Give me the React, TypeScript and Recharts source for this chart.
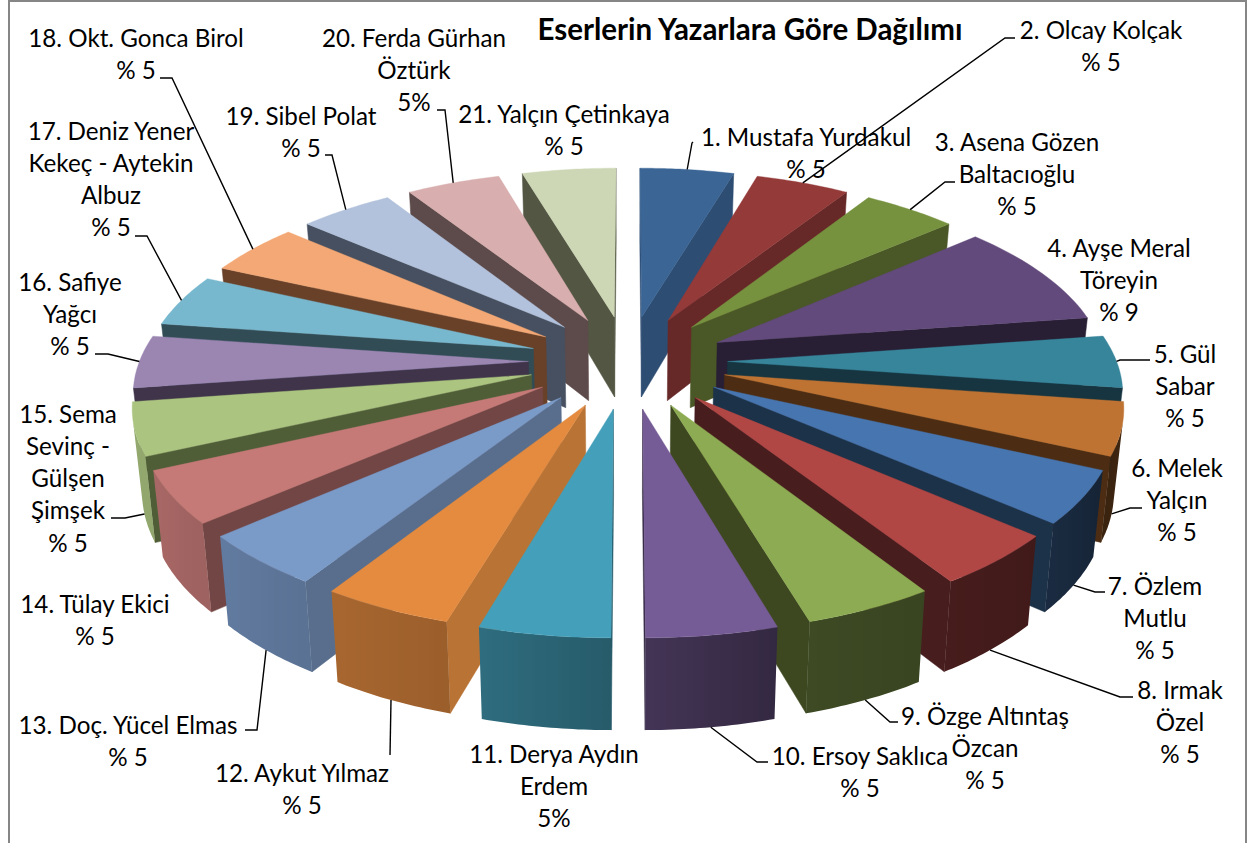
import React from "react";
import { PieChart, Pie } from "recharts";

const W = 1249;
const H = 843;

const names = [
  "Mustafa Yurdakul", "Olcay Kolçak", "Asena Gözen Baltacıoğlu", "Ayşe Meral Töreyin", "Gül Sabar",
  "Melek Yalçın", "Özlem Mutlu", "Irmak Özel", "Özge Altıntaş Özcan", "Ersoy Saklıca", "Derya Aydın Erdem",
  "Aykut Yılmaz", "Doç. Yücel Elmas", "Tülay Ekici", "Sema Sevinç - Gülşen Şimşek", "Safiye Yağcı",
  "Deniz Yener Kekeç - Aytekin Albuz", "Okt. Gonca Birol", "Sibel Polat", "Ferda Gürhan Öztürk", "Yalçın Çetinkaya",
];
const values = [4.55, 4.55, 4.55, 9.09, 4.55, 4.55, 4.55, 4.55, 4.55, 4.55, 4.55, 4.55, 4.55, 4.55, 4.55, 4.55, 4.55, 4.55, 4.55, 4.55, 4.55];

const labelLines = [
  ["1. Mustafa Yurdakul", "% 5"],
  ["2. Olcay Kolçak", "% 5"],
  ["3. Asena Gözen", "Baltacıoğlu", "% 5"],
  ["4. Ayşe Meral", "Töreyin", "% 9"],
  ["5. Gül", "Sabar", "% 5"],
  ["6. Melek", "Yalçın", "% 5"],
  ["7. Özlem", "Mutlu", "% 5"],
  ["8. Irmak", "Özel", "% 5"],
  ["9. Özge Altıntaş", "Özcan", "% 5"],
  ["10. Ersoy Saklıca", "% 5"],
  ["11. Derya Aydın", "Erdem", "5%"],
  ["12. Aykut Yılmaz", "% 5"],
  ["13. Doç. Yücel Elmas", "% 5"],
  ["14. Tülay Ekici", "% 5"],
  ["15. Sema", "Sevinç -", "Gülşen", "Şimşek", "% 5"],
  ["16. Safiye", "Yağcı", "% 5"],
  ["17. Deniz Yener", "Kekeç - Aytekin", "Albuz", "% 5"],
  ["18. Okt. Gonca Birol", "% 5"],
  ["19. Sibel Polat", "% 5"],
  ["20. Ferda Gürhan", "Öztürk", "5%"],
  ["21. Yalçın Çetinkaya", "% 5"],
];

const topColors = [
  "#3A6595", "#943A39", "#76923F", "#624A7C", "#37859B", "#BF7333", "#4775B0", "#B04745", "#8DAB52", "#765C96", "#44A0BA",
  "#E48B40", "#7A9AC8", "#C67A78", "#ABC480", "#9B86B2", "#78B8CF", "#F3A875", "#B2C2DC", "#D8AEAE", "#CDD7B5",
];
const sideColors = [
  "#2E4D73", "#672928", "#4A5726", "#281F35", "#163540", "#4C2D13", "#1C3248", "#471D1E", "#3D4820", "#322842", "#275A69",
  "#B87335", "#586E8C", "#724645", "#505E38", "#3F3449", "#314C55", "#694028", "#465060", "#5D4A4A", "#525643",
];
const shadeStops: [number, number][] = [
  [60, 0.35], [100, 0.36], [115, 0.3], [130, 0.36], [147, 0.4], [163, 0.43], [180, 0.57], [196, 0.68],
  [213, 0.74], [229, 0.8], [245, 0.85], [262, 0.87], [300, 0.87],
];

// label layout: text centre x, first-line centre y
const labelX = [806, 1101, 1017, 1119, 1185, 1177, 1155, 1180, 985, 860, 554, 302, 128, 95, 68, 70, 111, 136, 301, 414, 564];
const labelY = [136, 29, 141, 247, 353, 467, 585, 689, 715, 755, 753, 772, 724, 603, 413, 281, 130, 37, 115, 37, 113];
// leader layout: [elbow x, elbow y, end x, end y, anchor height 0..1] or null
const leaders: (number[] | null)[] = [
  [692, 143, 693, 142, 0], [1005, 38, 1015, 38, 0], [945, 182, 955, 182, 0], null, [1120, 360, 1150, 360, 0],
  [1130, 508, 1142, 508, 1], [1095, 592, 1105, 592, 1], [1120, 697, 1133, 697, 1], [890, 722, 898, 722, 1],
  [757, 762, 768, 762, 1], null, [390, 755, 390, 755, 1], [257, 730, 245, 730, 1], null, [125, 518, 111, 518, 1],
  [108, 354, 95, 354, 0], [147, 236, 135, 236, 0], [172, 78, 160, 78, 0], [332, 155, 325, 155, 0], [445, 110, 437, 110, 0], null,
];

const table = names.map((name, slice) => ({ name, value: values[slice], slice }));
const reversed = [...table].reverse();

const CX = 628;
const CY = 361.5;
const RADIUS = 389;
const EXPLODE = 0.256;
const K = 0.141;
const ASPECT = 0.4665;
const BOTTOM = 0.98;

const rad = (d: number) => (d * Math.PI) / 180;

function arcs(props: any) {
  const a = 90 - props.startAngle;
  const b = 90 - props.endAngle;
  let lo = Math.min(a, b);
  let hi = Math.max(a, b);
  if (lo < -0.001) {
    lo += 360;
    hi += 360;
  }
  return { lo, hi, mid: (lo + hi) / 2 };
}

function projector(props: any, mid: number) {
  const { cx, cy, outerRadius: B } = props;
  const ox = EXPLODE * Math.sin(rad(mid));
  const oy = -EXPLODE * Math.cos(rad(mid));
  return (r: number, theta: number, bottom: boolean): [number, number] => {
    const X = r * Math.sin(rad(theta)) + ox;
    const Y = -r * Math.cos(rad(theta)) + oy;
    const s = 1 / (1 - K * Y);
    const sx = cx + B * X * s * (bottom ? BOTTOM : 1);
    const sy = cy + B * ASPECT * Y * s + (bottom ? 82 + 8.2 * Y : 0);
    return [sx, sy];
  };
}

const path = (pts: [number, number][]) =>
  "M" + pts.map((p) => `${p[0].toFixed(1)},${p[1].toFixed(1)}`).join("L") + "Z";

const area = (pts: [number, number][]) => {
  let t = 0;
  pts.forEach((p, i) => {
    const q = pts[(i + 1) % pts.length];
    t += p[0] * q[1] - q[0] * p[1];
  });
  return t;
};

function shadeAt(theta: number) {
  for (let i = 1; i < shadeStops.length; i++) {
    if (theta <= shadeStops[i][0]) {
      const [a, va] = shadeStops[i - 1];
      const [b, vb] = shadeStops[i];
      return va + ((vb - va) * Math.max(0, theta - a)) / (b - a);
    }
  }
  return 0.87;
}

function scaled(hex: string, f: number) {
  const n = parseInt(hex.slice(1), 16);
  const c = [(n >> 16) & 255, (n >> 8) & 255, n & 255].map((v) => Math.round(v * f));
  return `rgb(${c[0]},${c[1]},${c[2]})`;
}

function wedge(props: any, half: "right" | "left") {
  const { lo, hi, mid } = arcs(props);
  const slice = props.slice ?? props.payload?.slice ?? 0;
  if ((half === "right") !== mid < 180) return <g />;
  const P = projector(props, mid);
  const top = topColors[slice];
  const side = sideColors[slice];
  const STEPS = 24;
  const thetas: number[] = [];
  for (let i = 0; i <= STEPS; i++) thetas.push(lo + ((hi - lo) * i) / STEPS);
  const rim = thetas.map((t) => P(1, t, false));
  const low = thetas.map((t) => P(1, t, true));
  const apex = P(0, mid, false);
  const apexB = P(0, mid, true);

  const radial = (q: [number, number][], key: string) =>
    area(q) < 0 ? <path key={key} d={path(q)} fill={side} stroke={side} strokeWidth={0.5} /> : null;

  // the part of the outer band that faces the viewer
  const seen: number[] = [];
  for (let i = 0; i < STEPS; i++) {
    if (area([rim[i], rim[i + 1], low[i + 1], low[i]]) < 0) {
      if (!seen.length) seen.push(i);
      seen.push(i + 1);
    }
  }
  let band = null;
  if (seen.length > 1) {
    const xs = seen.map((i) => rim[i][0]);
    const x1 = Math.min(...xs);
    const x2 = Math.max(...xs);
    const stops = seen
      .map((i) => ({ o: (rim[i][0] - x1) / Math.max(1, x2 - x1), c: scaled(top, shadeAt(thetas[i])) }))
      .sort((a, b) => a.o - b.o);
    const id = `band${slice}`;
    band = (
      <g>
        <defs>
          <linearGradient id={id} gradientUnits="userSpaceOnUse" x1={x1} x2={x2} y1={0} y2={0}>
            {stops.map((s, i) => (
              <stop key={i} offset={s.o} stopColor={s.c} />
            ))}
          </linearGradient>
        </defs>
        <path
          d={path([...seen.map((i) => rim[i]), ...[...seen].reverse().map((i) => low[i])])}
          fill={`url(#${id})`}
        />
      </g>
    );
  }

  return (
    <g>
      {radial([apex, rim[0], low[0], apexB], "s")}
      {radial([rim[STEPS], apex, apexB, low[STEPS]], "e")}
      {band}
      <path d={path([apex, ...rim])} fill={top} stroke={top} strokeWidth={0.4} />
    </g>
  );
}

const rightShape = (p: any) => wedge(p, "right");
const leftShape = (p: any) => wedge(p, "left");
const noShape = () => <g />;

function renderLabel(props: any) {
  const slice = props.slice ?? props.payload?.slice ?? props.index;
  const lines = labelLines[slice];
  const lead = leaders[slice];
  let line = null;
  if (lead) {
    const { mid } = arcs(props);
    const P = projector({ cx: CX, cy: CY, outerRadius: RADIUS }, mid);
    const [ax, ay] = P(1, mid, lead[4] === 1);
    line = (
      <polyline
        points={`${ax.toFixed(1)},${ay.toFixed(1)} ${lead[0]},${lead[1]} ${lead[2]},${lead[3]}`}
        fill="none"
        stroke="#000"
        strokeWidth={1.4}
      />
    );
  }
  return (
    <g key={slice}>
      {line}
      {lines.map((t: string, i: number) => (
        <text
          key={i}
          x={labelX[slice]}
          y={labelY[slice] + i * 32.3}
          textAnchor="middle"
          dominantBaseline="central"
          fontFamily="Lato"
          fontSize={24.2}
          fill="#000"
        >
          {t}
        </text>
      ))}
    </g>
  );
}

export default function App() {
  const common = {
    dataKey: "value",
    nameKey: "name",
    cx: CX,
    cy: CY,
    outerRadius: RADIUS,
    innerRadius: 0,
    stroke: "none",
    isAnimationActive: false,
  };
  return (
    <div style={{ position: "absolute", left: 0, top: 0, width: W, height: H, overflow: "hidden", background: "#fff" }}>
      <div style={{ position: "absolute", left: 8, top: 0, width: 1235, height: 900, border: "2px solid #868686", boxSizing: "content-box" }} />
      <div style={{ position: "absolute", left: 0, top: 0 }}>
        <PieChart width={W} height={H} margin={{ top: 0, right: 0, bottom: 0, left: 0 }}>
          <Pie {...common} data={reversed} startAngle={90} endAngle={450} shape={leftShape} inactiveShape={leftShape} activeShape={leftShape} label={false} labelLine={false} />
          <Pie {...common} data={table} startAngle={90} endAngle={-270} shape={rightShape} inactiveShape={rightShape} activeShape={rightShape} label={false} labelLine={false} />
          <Pie {...common} data={table} startAngle={90} endAngle={-270} shape={noShape} inactiveShape={noShape} activeShape={noShape} label={renderLabel} labelLine={false} />
          <text x={750} y={28} textAnchor="middle" dominantBaseline="central" fontFamily="Lato" fontWeight={700} fontSize={29.5} fill="#000">
            Eserlerin Yazarlara Göre Dağılımı
          </text>
        </PieChart>
      </div>
    </div>
  );
}
